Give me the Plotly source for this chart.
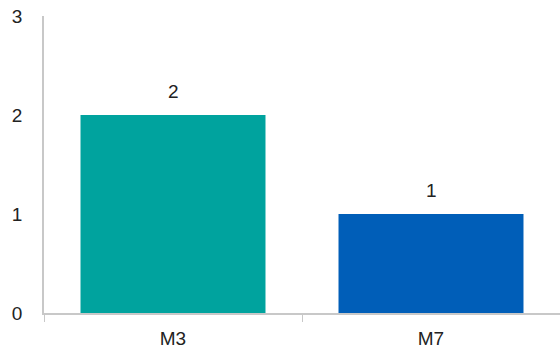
import plotly.graph_objects as go

categories = ["M3", "M7"]
values = [2, 1]
colors = ["#00A39E", "#005EB8"]
y_ticks = [0, 1, 2, 3]

fig = go.Figure()
fig.add_trace(go.Bar(
    x=categories, y=values, marker=dict(color=colors, line=dict(width=0)),
    width=0.717, hoverinfo="skip",
))
for c, v in zip(categories, values):
    fig.add_annotation(x=c, y=v, text=str(v), showarrow=False, yanchor="bottom",
                       yshift=11, font=dict(size=19, color="#222"))

fig.update_layout(
    width=560, height=354,
    margin=dict(l=44, r=0, t=16, b=41),
    paper_bgcolor="white", plot_bgcolor="white",
    font=dict(family="Liberation Sans, Arial, sans-serif", size=19, color="#222"),
    showlegend=False,
)
fig.update_xaxes(
    type="category", showline=True, linecolor="#c8c8c8", linewidth=1.5,
    ticks="outside", tickson="boundaries", ticklen=7, tickcolor="#c8c8c8",
    tickwidth=1, showgrid=False, ticklabelstandoff=7,
)
fig.update_yaxes(
    range=[0, 3], tickvals=y_ticks, showline=True, linecolor="#c8c8c8",
    linewidth=1.5, showgrid=False, zeroline=False, ticks="",
    ticklabelstandoff=16,
)
fig.write_html("out.html")
